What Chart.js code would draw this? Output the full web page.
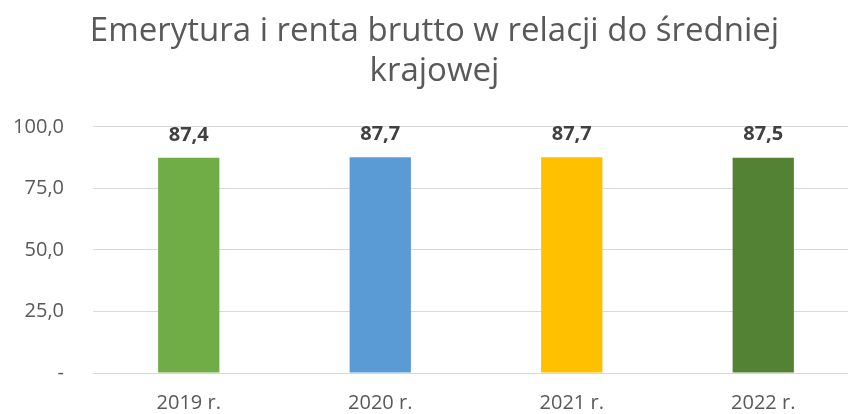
<!DOCTYPE html>
<html>
<head>
<meta charset="utf-8">
<script src="https://cdn.jsdelivr.net/npm/chart.js@4/dist/chart.umd.min.js"></script>
<style>
    html, body { margin: 0; padding: 0; background: #fff; overflow: hidden; }
    #wrap { width: 868px; height: 414px; }
</style>
</head>
<body>
<div id="wrap"><canvas id="pensionChart"></canvas></div>
<script>
// Emerytura i renta brutto - chart data
const years = ['2019 r.', '2020 r.', '2021 r.', '2022 r.'];
const ratioValues = [87.4, 87.7, 87.7, 87.5];
const barColors = ['#70AD47', '#5B9BD5', '#FFC000', '#548235'];
const yTicks = [0, 25, 50, 75, 100];

// Polish number format, zero shown as a dash (Excel accounting style)
function fmt(v) {
    if (v === 0) return '-';
    return v.toFixed(1).replace('.', ',');
}

// Draw value labels above the bars
const valueLabels = {
    id: 'valueLabels',
    afterDatasetsDraw(chart) {
        const ctx = chart.ctx;
        const meta = chart.getDatasetMeta(0);
        ctx.save();
        ctx.font = 'bold 20px "Open Sans"';
        ctx.fillStyle = '#404040';
        ctx.textAlign = 'center';
        ctx.textBaseline = 'middle';
        meta.data.forEach((bar, i) => {
            ctx.fillText(fmt(ratioValues[i]), bar.x, bar.y - 23);
        });
        ctx.restore();
    }
};

const ctx = document.getElementById('pensionChart').getContext('2d');
new Chart(ctx, {
    type: 'bar',
    data: {
        labels: years,
        datasets: [{
            data: ratioValues,
            backgroundColor: barColors,
            barPercentage: 0.32,
            categoryPercentage: 1
        }]
    },
    options: {
        responsive: true,
        maintainAspectRatio: false,
        animation: false,
        layout: { padding: { left: 10, right: 9, top: 0, bottom: 0 } },
        plugins: {
            legend: { display: false },
            tooltip: { enabled: false },
            title: {
                display: true,
                text: ['Emerytura i renta brutto w relacji do średniej', 'krajowej'],
                color: '#595959',
                font: { family: 'Open Sans', size: 33, weight: 'normal', lineHeight: 1.21 },
                padding: { top: 12, bottom: 35 }
            }
        },
        scales: {
            y: {
                min: 0,
                max: 100,
                afterBuildTicks: scale => {
                    scale.ticks = yTicks.map(v => ({ value: v }));
                },
                afterFit: scale => { scale.width = 83; },
                border: { display: false },
                grid: { color: '#D9D9D9', lineWidth: 1, drawTicks: false },
                ticks: {
                    color: '#595959',
                    font: { family: 'Open Sans', size: 20 },
                    padding: 29,
                    callback: v => fmt(v)
                }
            },
            x: {
                afterFit: scale => { scale.height = 40; },
                border: { display: false },
                grid: { display: false },
                ticks: {
                    color: '#595959',
                    font: { family: 'Open Sans', size: 20 },
                    padding: 10
                }
            }
        }
    },
    plugins: [valueLabels]
});
</script>
</body>
</html>
